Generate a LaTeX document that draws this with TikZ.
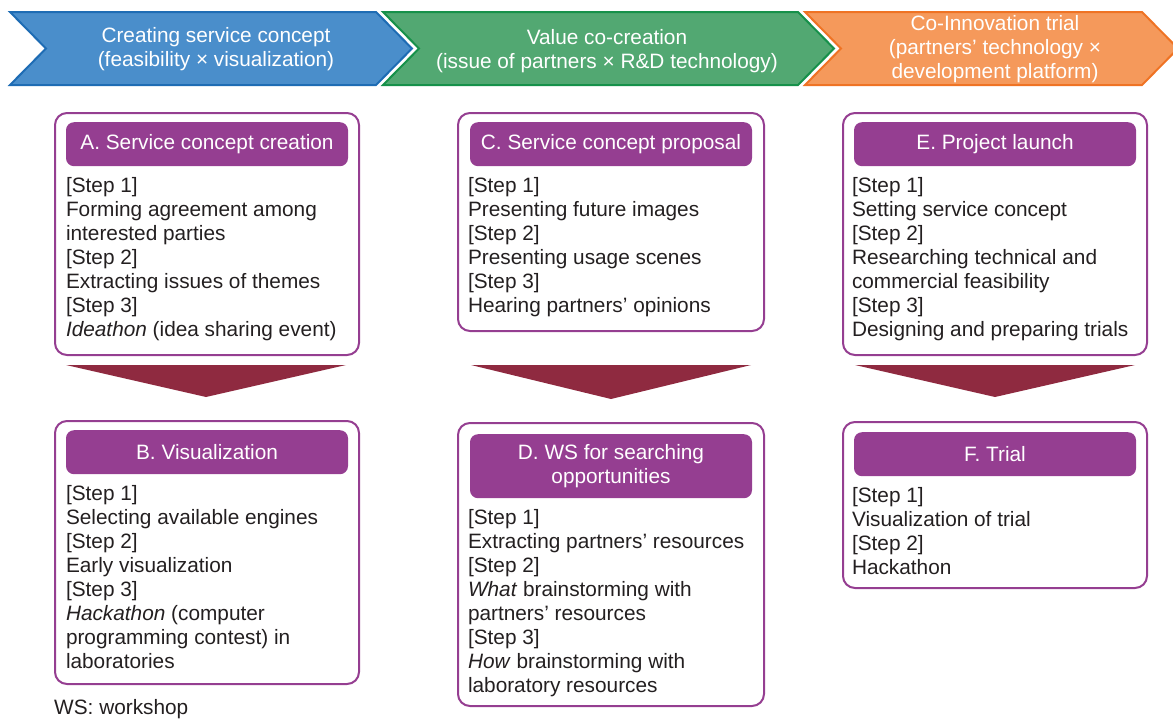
\documentclass[tikz,border=0pt]{standalone}
\usepackage{fontspec}
\setmainfont{Liberation Sans}
\usetikzlibrary{positioning,calc}

\definecolor{phaseblue}{HTML}{4A8ECB}
\definecolor{phaseblueline}{HTML}{1E6CB4}
\definecolor{phasegreen}{HTML}{52A872}
\definecolor{phasegreenline}{HTML}{16914A}
\definecolor{phaseorange}{HTML}{F5995B}
\definecolor{phaseorangeline}{HTML}{EF7324}
\definecolor{stagepurple}{HTML}{953E91}
\definecolor{flowred}{HTML}{8F2A40}
\definecolor{textgray}{HTML}{231F20}

\begin{document}
\begin{tikzpicture}[x=1pt, y=-1pt,
    every node/.style={font=\fontsize{20.8}{24}\selectfont, text=textgray},
    banner/.style={line width=2pt, line join=miter},
    bannertext/.style={text=white, align=center},
    panel/.style={draw=stagepurple, line width=2pt, rounded corners=12pt, minimum width=304pt, inner sep=0pt, anchor=north west},
    head/.style={fill=stagepurple, rounded corners=8pt, minimum width=282pt, minimum height=44pt, text=white, align=center, inner sep=4pt},
    body/.style={align=left, inner sep=0pt},
    flowdown/.style={fill=flowred}]
    \useasboundingbox (0,0) rectangle (1173,718);

    % Phase banners
    \filldraw[banner, fill=phaseblue, draw=phaseblueline] (10,12) -- (376,12) -- (412,48.5) -- (376,85) -- (10,85) -- (46,48.5) -- cycle;
    \filldraw[banner, fill=phasegreen, draw=phasegreenline] (383,12) -- (798,12) -- (834,48.5) -- (798,85) -- (383,85) -- (419,48.5) -- cycle;
    \filldraw[banner, fill=phaseorange, draw=phaseorangeline] (805,12) -- (1142,12) -- (1178,48.5) -- (1142,85) -- (805,85) -- (841,48.5) -- cycle;
    \node[bannertext] (phase1) at (216,49) {Creating service concept\\(feasibility × visualization)};
    \node[bannertext] (phase2) at (607,51) {Value co-creation\\(issue of partners × R\&D technology)};
    \node[bannertext] (phase3) at (995,49.5) {Co-Innovation trial\\(partners’ technology ×\\development platform)};

    % Top row
    \node[panel, minimum height=242pt] (boxA) at (54,112) {};
    \node[panel, minimum height=218pt, minimum width=306pt] (boxC) at (457,112) {};
    \node[panel, minimum height=242pt] (boxE) at (842,112) {};

    % Bottom row
    \node[panel, minimum height=263pt, below=64pt of boxA] (boxB) {};
    \node[panel, minimum height=283pt, minimum width=306pt, below=90pt of boxC] (boxD) {};
    \node[panel, minimum height=166pt, below=65pt of boxE] (boxF) {};

    % Stage titles
    \node[head, below=10pt of boxA.north] (headA) {A. Service concept creation};
    \node[head, below=10pt of boxB.north] (headB) {B. Visualization};
    \node[head, below=10pt of boxC.north] (headC) {C. Service concept proposal};
    \node[head, below=12pt of boxD.north, minimum height=64pt] (headD) {D. WS for searching\\opportunities};
    \node[head, below=10pt of boxE.north] (headE) {E. Project launch};
    \node[head, below=11pt of boxF.north] (headF) {F. Trial};

    % Steps
    \node[body, below right=11pt and 0pt of headA.south west] (stepsA) {[Step 1]\\Forming agreement among\\interested parties\\{}[Step 2]\\Extracting issues of themes\\{}[Step 3]\\\textit{Ideathon} (idea sharing event)};
    \node[body, below right=11pt and 0pt of headB.south west] (stepsB) {[Step 1]\\Selecting available engines\\{}[Step 2]\\Early visualization\\{}[Step 3]\\\textit{Hackathon} (computer\\programming contest) in\\laboratories};
    \node[body, below right=11pt and -2pt of headC.south west] (stepsC) {[Step 1]\\Presenting future images\\{}[Step 2]\\Presenting usage scenes\\{}[Step 3]\\Hearing partners’ opinions};
    \node[body, below right=11pt and -2pt of headD.south west] (stepsD) {[Step 1]\\Extracting partners’ resources\\{}[Step 2]\\\textit{What} brainstorming with\\partners’ resources\\{}[Step 3]\\\textit{How} brainstorming with\\laboratory resources};
    \node[body, below right=11pt and -2pt of headE.south west] (stepsE) {[Step 1]\\Setting service concept\\{}[Step 2]\\Researching technical and\\commercial feasibility\\{}[Step 3]\\Designing and preparing trials};
    \node[body, below right=11pt and -2pt of headF.south west] (stepsF) {[Step 1]\\Visualization of trial\\{}[Step 2]\\Hackathon};

    % Arrows
    \fill[flowdown] ($(boxA.south)+(-141,9)$) -- ($(boxA.south)+(139,9)$) -- ($(boxB.north)+(-1,-23)$) -- cycle;
    \fill[flowdown] ($(boxC.south)+(-140,33)$) -- ($(boxC.south)+(140,33)$) -- ($(boxD.north)+(0,-23)$) -- cycle;
    \fill[flowdown] ($(boxE.south)+(-140,9)$) -- ($(boxE.south)+(140,9)$) -- ($(boxF.north)+(0,-24)$) -- cycle;

    % Note
    \node[anchor=base west, inner sep=0pt] (note) at (54,714) {WS: workshop};
\end{tikzpicture}
\end{document}
